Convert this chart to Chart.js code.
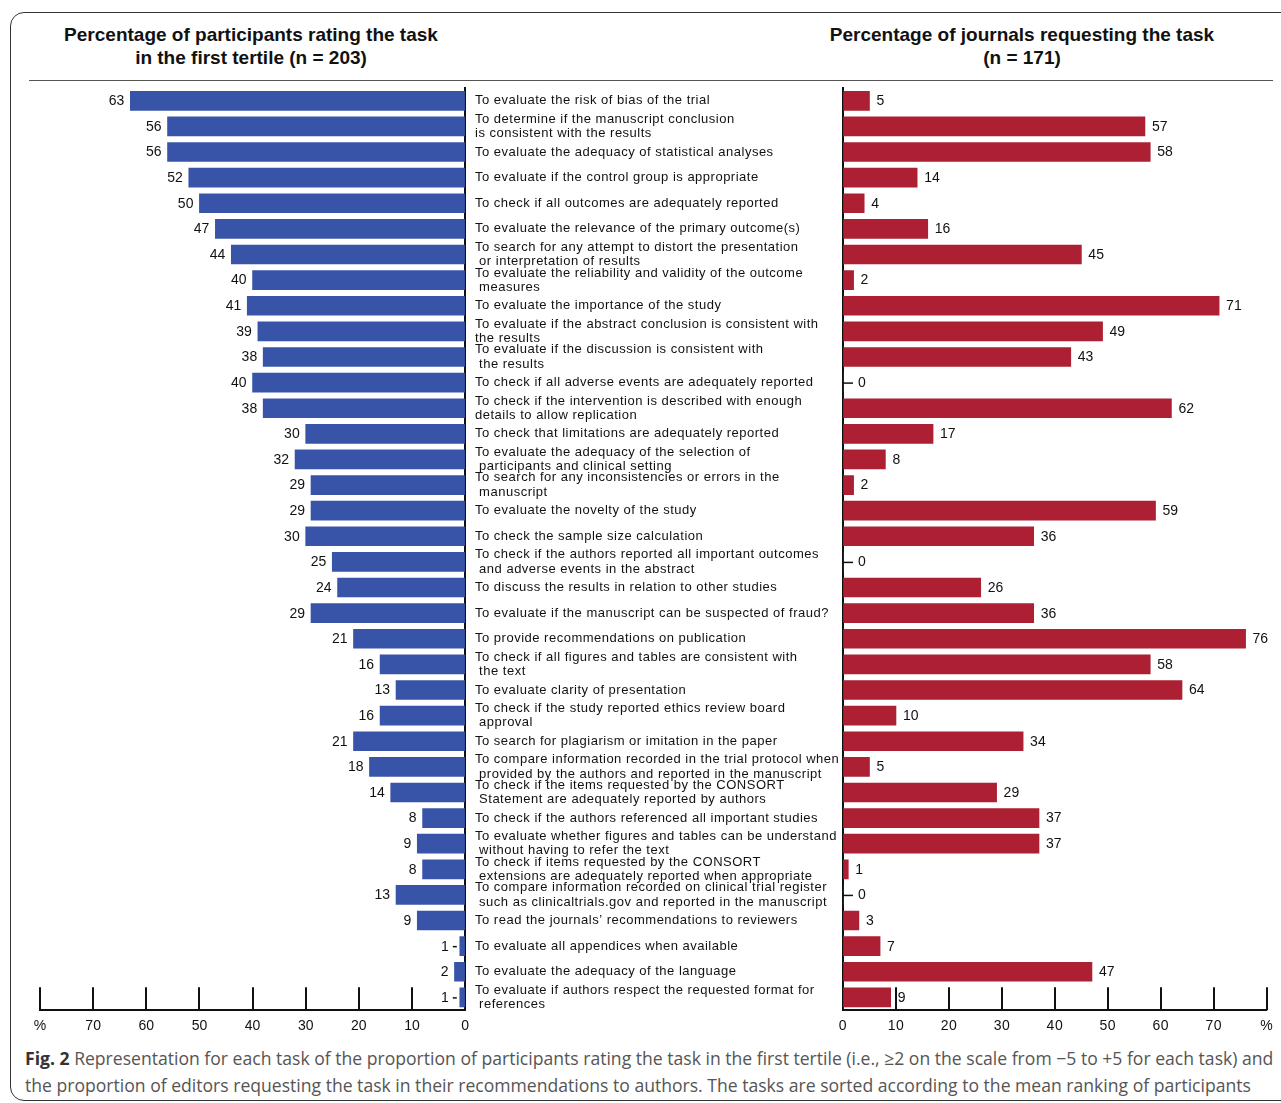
<!DOCTYPE html>
<html><head><meta charset="utf-8">
<script src="https://cdn.jsdelivr.net/npm/chart.js@4.4.1/dist/chart.umd.min.js"></script>
<style>
html,body{margin:0;padding:0;background:#fff;}
body{width:1281px;height:1103px;overflow:hidden;position:relative;font-family:"Liberation Sans",Arial,sans-serif;}
#frame{position:absolute;left:10px;top:12px;width:1300px;height:1089px;border:1.5px solid #333;border-radius:14px;box-sizing:border-box;}
.title{position:absolute;top:23px;font-weight:bold;font-size:19px;line-height:23px;text-align:center;color:#111;}
#sep{position:absolute;left:29px;top:80px;width:1244px;height:0;border-top:1.5px solid #555;}
#c1{position:absolute;left:0;top:80px;}
#c2{position:absolute;left:475px;top:80px;}
.cap{position:absolute;left:25px;font-family:"Open Sans",sans-serif;font-size:18px;line-height:24px;color:#555;white-space:nowrap;transform-origin:0 0;}
.cap b{color:#333;}
</style>
</head><body>
<div id="frame"></div>
<div class="title" style="left:20px;width:462px;">Percentage of participants rating the task<br>in the first tertile (n = 203)</div>
<div class="title" style="left:802px;width:440px;">Percentage of journals requesting the task<br>(n = 171)</div>
<div id="sep"></div>
<canvas id="c1" width="477" height="963"></canvas>
<canvas id="c2" width="806" height="963"></canvas>
<div class="cap" id="cap1" style="top:1046px;"><b>Fig. 2</b> Representation for each task of the proportion of participants rating the task in the first tertile (i.e., ≥2 on the scale from −5 to +5 for each task) and</div>
<div class="cap" id="cap2" style="top:1073px;">the proportion of editors requesting the task in their recommendations to authors. The tasks are sorted according to the mean ranking of participants</div>
<script>
const tasks = [
  "To evaluate the risk of bias of the trial",
  ["To determine if the manuscript conclusion","is consistent with the results"],
  "To evaluate the adequacy of statistical analyses",
  "To evaluate if the control group is appropriate",
  "To check if all outcomes are adequately reported",
  "To evaluate the relevance of the primary outcome(s)",
  ["To search for any attempt to distort the presentation"," or interpretation of results"],
  ["To evaluate the reliability and validity of the outcome"," measures"],
  "To evaluate the importance of the study",
  ["To evaluate if the abstract conclusion is consistent with","the results"],
  ["To evaluate if the discussion is consistent with"," the results"],
  "To check if all adverse events are adequately reported",
  ["To check if the intervention is described with enough","details to allow replication"],
  "To check that limitations are adequately reported",
  ["To evaluate the adequacy of the selection of"," participants and clinical setting"],
  ["To search for any inconsistencies or errors in the"," manuscript"],
  "To evaluate the novelty of the study",
  "To check the sample size calculation",
  ["To check if the authors reported all important outcomes"," and adverse events in the abstract"],
  "To discuss the results in relation to other studies",
  "To evaluate if the manuscript can be suspected of fraud?",
  "To provide recommendations on publication",
  ["To check if all figures and tables are consistent with"," the text"],
  "To evaluate clarity of presentation",
  ["To check if the study reported ethics review board"," approval"],
  "To search for plagiarism or imitation in the paper",
  ["To compare information recorded in the trial protocol when"," provided by the authors and reported in the manuscript"],
  ["To check if the items requested by the CONSORT"," Statement are adequately reported by authors"],
  "To check if the authors referenced all important studies",
  ["To evaluate whether figures and tables can be understand"," without having to refer the text"],
  ["To check if items requested by the CONSORT"," extensions are adequately reported when appropriate"],
  ["To compare information recorded on clinical trial register"," such as clinicaltrials.gov and reported in the manuscript"],
  "To read the journals\u2019 recommendations to reviewers",
  "To evaluate all appendices when available",
  "To evaluate the adequacy of the language",
  ["To evaluate if authors respect the requested format for"," references"]
];
const participantsPct = [63,56,56,52,50,47,44,40,41,39,38,40,38,30,32,29,29,30,25,24,29,21,16,13,16,21,18,14,8,9,8,13,9,1,2,1];
const journalsPct = [5,57,58,14,4,16,45,2,71,49,43,0,62,17,8,2,59,36,0,26,36,76,58,64,10,34,5,29,37,37,1,0,3,7,47,9];
const axisMax = 80;
const axisStep = 10;
const axisUnitLabel = '%';

const BLUE = '#3854a8';
const RED = '#ad1f32';
const FONT = '"Liberation Sans", Arial, sans-serif';
const TXT = '#111';

const spacing = {
  id: 'spacing',
  beforeDraw(chart, args, opts) {
    if ('letterSpacing' in chart.ctx) chart.ctx.letterSpacing = opts.value || '0px';
  }
};

const valueLabels = {
  id: 'valueLabels',
  afterDatasetsDraw(chart, args, opts) {
    const ctx = chart.ctx;
    const meta = chart.getDatasetMeta(0);
    const vals = chart.data.datasets[0].data;
    const zero = chart.scales.x.getPixelForValue(0);
    ctx.save();
    if ('letterSpacing' in ctx) ctx.letterSpacing = '0px';
    ctx.font = '14px ' + FONT;
    ctx.fillStyle = TXT;
    ctx.strokeStyle = TXT;
    ctx.lineWidth = 1.5;
    ctx.textBaseline = 'middle';
    meta.data.forEach((bar, i) => {
      const v = vals[i];
      const y = bar.y + 0.5;
      if (opts.side === 'left') {
        ctx.textAlign = 'right';
        if (v <= 1) {
          ctx.beginPath(); ctx.moveTo(bar.x - 7, y); ctx.lineTo(bar.x - 3, y); ctx.stroke();
          ctx.fillText(String(v), bar.x - 11, y);
        } else {
          ctx.fillText(String(v), bar.x - 6, y);
        }
      } else {
        ctx.textAlign = 'left';
        if (v === 0) {
          ctx.beginPath(); ctx.moveTo(zero, y); ctx.lineTo(zero + 10, y); ctx.stroke();
          ctx.fillText(String(v), zero + 15, y);
        } else {
          ctx.fillText(String(v), bar.x + 7, y);
        }
      }
    });
    ctx.restore();
  }
};

const tickMarks = {
  id: 'tickMarks',
  afterDraw(chart) {
    const ctx = chart.ctx;
    const xs = chart.scales.x;
    const b = chart.chartArea.bottom;
    ctx.save();
    ctx.strokeStyle = TXT;
    ctx.lineWidth = 2;
    xs.ticks.forEach(t => {
      if (t.value === 0) return;
      const px = Math.round(xs.getPixelForValue(t.value));
      ctx.beginPath(); ctx.moveTo(px, b); ctx.lineTo(px, b - 23); ctx.stroke();
    });
    ctx.restore();
  }
};

function xScale(reverse) {
  return {
    type: 'linear', min: 0, max: axisMax, reverse: reverse,
    ticks: { stepSize: axisStep, autoSkip: false, maxRotation: 0, padding: 8,
      color: TXT, font: { size: 14, family: FONT },
      callback: v => v === axisMax ? axisUnitLabel : v },
    grid: { drawOnChartArea: false, drawTicks: false },
    border: { display: true, color: TXT, width: 2 }
  };
}

Chart.defaults.font.family = FONT;

new Chart(document.getElementById('c1'), {
  type: 'bar',
  data: { labels: tasks, datasets: [{ data: participantsPct, backgroundColor: BLUE, barThickness: 19 }] },
  options: {
    indexAxis: 'y', responsive: false, animation: false,
    layout: { padding: { left: 40, right: 5, top: 8, bottom: 0 } },
    plugins: { legend: { display: false }, tooltip: { enabled: false }, valueLabels: { side: 'left' } },
    scales: {
      x: xScale(true),
      y: { position: 'right', ticks: { display: false }, grid: { drawOnChartArea: false, drawTicks: false },
           border: { display: true, color: TXT, width: 2 }, afterFit(s) { s.width = 0; } }
    }
  },
  plugins: [valueLabels, tickMarks]
});

new Chart(document.getElementById('c2'), {
  type: 'bar',
  data: { labels: tasks, datasets: [{ data: journalsPct, backgroundColor: RED, barThickness: 19 }] },
  options: {
    indexAxis: 'y', responsive: false, animation: false,
    layout: { padding: { left: 0, right: 13, top: 8, bottom: 0 } },
    plugins: { legend: { display: false }, tooltip: { enabled: false }, valueLabels: { side: 'right' }, spacing: { value: '0.5px' } },
    scales: {
      x: xScale(false),
      y: { position: 'left',
           ticks: { crossAlign: 'far', autoSkip: false, padding: 0, labelOffset: 0, color: TXT,
                    font: { size: 13, family: FONT, lineHeight: 1.1 } },
           grid: { drawOnChartArea: false, drawTicks: false },
           border: { display: true, color: TXT, width: 2 },
           afterFit(s) { s.width = 368; s.paddingTop = 0; s.paddingBottom = 0; } }
    }
  },
  plugins: [spacing, valueLabels, tickMarks]
});

const c1 = document.getElementById('cap1'), c2 = document.getElementById('cap2');
const f = 1248 / c1.offsetWidth;
c1.style.transform = 'scaleX(' + f + ')';
c2.style.transform = 'scaleX(' + f + ')';
</script>
</body></html>
